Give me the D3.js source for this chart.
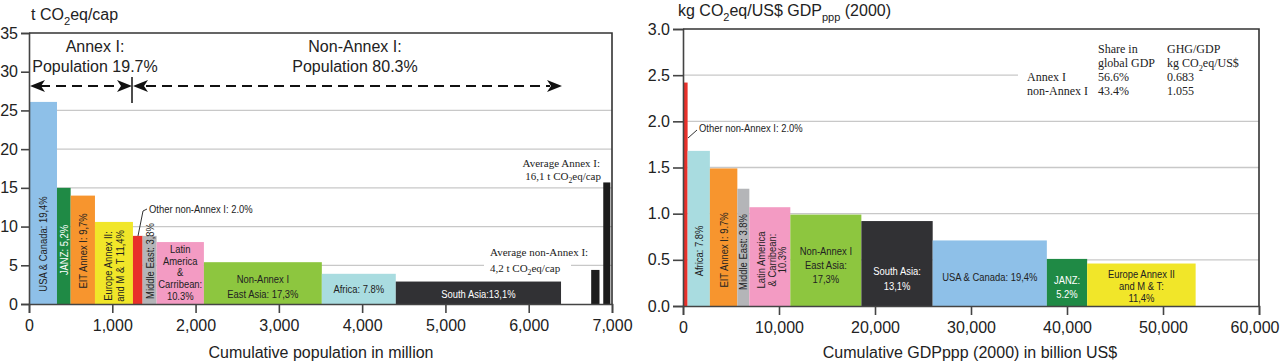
<!DOCTYPE html>
<html><head><meta charset="utf-8">
<script src="https://cdn.jsdelivr.net/npm/d3@7"></script>
<style>
body{margin:0;background:#fff}
svg{display:block}
.sans{font-family:"Liberation Sans",Arial,Helvetica,sans-serif}
.narrow{font-family:"Liberation Sans",Arial,sans-serif}
.serif{font-family:"Liberation Serif","Times New Roman",serif}
</style>
</head><body>
<svg id="c" width="1280" height="362"></svg>
<script>
// ---------------- DATA ----------------
const popCategories = ["USA & Canada","JANZ","EIT Annex I","Europe Annex II and M & T","Other non-Annex I","Middle East","Latin America & Carribean","Non-Annex I East Asia","Africa","South Asia"];
const popMillions   = [336,164,292,456,116,168,568,1416,888,1984];
const ghgPerCapita  = [26.1,15.0,14.0,10.6,8.8,8.8,8.0,5.4,3.9,2.9];
const popLabels = [["USA & Canada: 19,4%"],["JANZ: 5,2%"],["EIT Annex I: 9,7%"],["Europe Annex II:","and M & T 11,4%"],[],["Middle East: 3,8%"],["Latin","America","&","Carribean:","10.3%"],["Non-Annex I","East Asia: 17,3%"],["Africa: 7.8%"],["South Asia:13,1%"]];

const avgCategories = ["Average non-Annex I","Average Annex I"];
const avgStartPop   = [6750,6895];
const avgEndPop     = [6850,6980];
const avgPerCapita  = [4.4,15.7];

const gdpCategories = ["Other non-Annex I","Africa","EIT Annex I","Middle East","Latin America & Carribean","Non-Annex I East Asia","South Asia","USA & Canada","JANZ","Europe Annex II and M & T"];
const gdpBillions   = [480,2320,2860,1250,4270,7400,7430,11890,4200,11300];
const ghgPerGdp     = [2.42,1.68,1.49,1.27,1.07,0.99,0.92,0.71,0.51,0.46];
const gdpLabels = [[],["Africa: 7.8%"],["EIT Annex I: 9.7%"],["Middle East: 3.8%"],["Latin America","& Carribean:","10.3%"],["Non-Annex I","East Asia:","17,3%"],["South Asia:","13,1%"],["USA & Canada: 19,4%"],["JANZ:","5.2%"],["Europe Annex II","and M & T:","11,4%"]];

const popTicks    = [0,1000,2000,3000,4000,5000,6000,7000];
const perCapTicks = [0,5,10,15,20,25,30,35];
const gdpTicks    = [0,10000,20000,30000,40000,50000,60000];
const perGdpTicks = [0,0.5,1.0,1.5,2.0,2.5,3.0];

const tableHead1 = ["","Share in","GHG/GDP"];
const tableHead2 = ["","global GDP","kg CO|2|eq/US$"];
const tableRows  = [["Annex I","56.6%","0.683"],["non-Annex I","43.4%","1.055"]];

const colors = {
  "USA & Canada":"#8ec0e8","JANZ":"#1f8a45","EIT Annex I":"#f7952e","Europe Annex II and M & T":"#f1e629",
  "Other non-Annex I":"#e8302a","Middle East":"#b4b5b8","Latin America & Carribean":"#f39bc3",
  "Non-Annex I East Asia":"#8dc63f","Africa":"#a9dce0","South Asia":"#313134"
};
const whiteText = new Set(["South Asia","JANZ"]);

// ---------------- DRAW ----------------
const svg = d3.select("#c");
const fmt = d3.format(",");
const NARROW = 0.82;

function subText(sel, str, size){ // "a|2|b" => subscript
  const parts = str.split("|");
  parts.forEach((p,i)=>{
    if(i%2===1){ sel.append("tspan").attr("dy",size*0.3).attr("font-size",size*0.7).text(p); }
    else if(i>0){ sel.append("tspan").attr("dy",-size*0.3).text(p); }
    else sel.append("tspan").text(p);
  });
}
// condensed text: drawn in a horizontally squeezed group
function narrowText(g, x, y, str, opts){
  const o = Object.assign({anchor:"middle",size:11.5,fill:"#222",rot:false,dy:null},opts||{});
  const gg = g.append("g").attr("transform",`translate(${x},${y})${o.rot?" rotate(-90)":""} scale(${NARROW},1)`);
  const t = gg.append("text").attr("class","narrow").attr("x",0).attr("y",0)
    .attr("text-anchor",o.anchor).attr("font-size",o.size).attr("fill",o.fill).text(str);
  if(o.dy) t.attr("dy",o.dy);
  return t;
}

function arrowHead(g, x, y, dir){ // dir +1 right, -1 left; tip at x
  const L=15, H=6, N=4;
  g.append("path").attr("d",`M${x},${y} L${x-dir*L},${y-H} L${x-dir*(L-N)},${y} L${x-dir*L},${y+H} Z`).attr("fill","#111");
}

function drawLabels(g, cats, labels, layout, starts, ends, xs, size){
  cats.forEach((c,i)=>{
    const L = layout[i]; if(!L) return;
    const cx = (xs(starts[i])+xs(ends[i]))/2 + (L.dx||0);
    const fill = whiteText.has(c) ? "#fff" : "#222";
    const lines = labels[i], n = lines.length, lh = L.lh||12;
    lines.forEach((t,k)=>{
      if(L.rot) narrowText(g, cx + (k-(n-1)/2)*lh, L.cy, t, {rot:true,size,fill,dy:"0.35em"});
      else narrowText(g, cx, L.y0 + k*lh, t, {size,fill});
    });
  });
}

function styleAxis(a){
  a.select(".domain").attr("stroke","#444").attr("stroke-width",1.6);
  a.selectAll(".tick line").attr("stroke","#444").attr("stroke-width",1.6);
  a.selectAll("text").attr("class","sans").attr("font-size",16).attr("fill","#222");
}

// ===== LEFT CHART =====
const xL = d3.scaleLinear().domain([0,7000]).range([29,612]);
const yL = d3.scaleLinear().domain([0,35]).range([304,33]);
const gL = svg.append("g");

gL.append("g").selectAll("line").data(perCapTicks.filter(d=>d>0 && d<30)).join("line")
  .attr("x1",xL(0)).attr("x2",xL(7000)).attr("y1",d=>yL(d)).attr("y2",d=>yL(d))
  .attr("stroke","#c8c8c8").attr("stroke-width",1.3);

const popEnd = Array.from(d3.cumsum(popMillions));
const popStart = popEnd.map((e,i)=>e-popMillions[i]);
gL.append("g").selectAll("rect").data(popCategories).join("rect")
  .attr("x",(d,i)=>xL(popStart[i])).attr("width",(d,i)=>xL(popEnd[i])-xL(popStart[i]))
  .attr("y",(d,i)=>yL(ghgPerCapita[i])).attr("height",(d,i)=>yL(0)-yL(ghgPerCapita[i]))
  .attr("fill",d=>colors[d]);
gL.append("g").selectAll("rect").data(avgCategories).join("rect")
  .attr("x",(d,i)=>xL(avgStartPop[i])).attr("width",(d,i)=>xL(avgEndPop[i])-xL(avgStartPop[i]))
  .attr("y",(d,i)=>yL(avgPerCapita[i])).attr("height",(d,i)=>yL(0)-yL(avgPerCapita[i]))
  .attr("fill","#1c1c1c");

const axLg = gL.append("g").attr("transform",`translate(${xL(0)},0)`)
  .call(d3.axisLeft(yL).tickValues(perCapTicks).tickSize(8).tickPadding(3).tickFormat(d3.format("d")));
const axBg = gL.append("g").attr("transform",`translate(0,${yL(0)})`)
  .call(d3.axisBottom(xL).tickValues(popTicks).tickSize(9).tickPadding(7).tickFormat(fmt));
styleAxis(axLg); styleAxis(axBg);
gL.append("path").attr("d",`M${xL(0)},${yL(35)} H${xL(7000)} V${yL(0)}`).attr("fill","none").attr("stroke","#333").attr("stroke-width",1.6);

const tL = gL.append("text").attr("class","sans").attr("x",31).attr("y",20).attr("font-size",16).attr("fill","#222");
subText(tL,"t CO|2|eq/cap",16);
gL.append("text").attr("class","sans").attr("x",321).attr("y",358).attr("text-anchor","middle").attr("font-size",16).attr("fill","#222").text("Cumulative population in million");

[["Annex I:",95,52],["Population 19.7%",95,72],["Non-Annex I:",355,52],["Population 80.3%",355,72]].forEach(([t,x,y])=>{
  gL.append("text").attr("class","sans").attr("x",x).attr("y",y).attr("text-anchor","middle").attr("font-size",16).attr("fill","#222").text(t);
});
const ay = 86, midX = 132;
gL.append("line").attr("x1",40).attr("x2",120).attr("y1",ay).attr("y2",ay).attr("stroke","#111").attr("stroke-width",2).attr("stroke-dasharray","10,6");
gL.append("line").attr("x1",146).attr("x2",550).attr("y1",ay).attr("y2",ay).attr("stroke","#111").attr("stroke-width",2).attr("stroke-dasharray","10,6");
arrowHead(gL,30,ay,-1); arrowHead(gL,midX,ay,1); arrowHead(gL,midX+1,ay,-1); arrowHead(gL,562,ay,1);
gL.append("line").attr("x1",midX).attr("x2",midX).attr("y1",77).attr("y2",103).attr("stroke","#111").attr("stroke-width",1.5);

const popLayout = {
  0:{rot:true,cy:244},1:{rot:true,cy:250},2:{rot:true,cy:251},3:{rot:true,cy:266,lh:12},5:{rot:true,cy:261},
  6:{rot:false,y0:253,lh:11.7},7:{rot:false,y0:283,lh:15},8:{rot:false,y0:293},9:{rot:false,y0:298}
};
drawLabels(gL, popCategories, popLabels, popLayout, popStart, popEnd, xL, 11.5);

gL.append("path").attr("d","M147,209 L143,211 L138,236").attr("fill","none").attr("stroke","#333").attr("stroke-width",1);
narrowText(gL,149,213,"Other non-Annex I: 2.0%",{anchor:"start"});

gL.append("text").attr("class","serif").attr("x",600).attr("y",167).attr("text-anchor","end").attr("font-size",11).attr("fill","#222").text("Average Annex I:");
const a2 = gL.append("text").attr("class","serif").attr("x",601).attr("y",180).attr("text-anchor","end").attr("font-size",11).attr("fill","#222");
subText(a2,"16,1 t CO|2|eq/cap",11);
gL.append("text").attr("class","serif").attr("x",490).attr("y",256).attr("font-size",11).attr("fill","#222").text("Average non-Annex I:");
gL.append("rect").attr("x",484).attr("y",262).attr("width",87).attr("height",12).attr("fill","#fff");
const a4 = gL.append("text").attr("class","serif").attr("x",490).attr("y",272).attr("font-size",11).attr("fill","#222");
subText(a4,"4,2 t CO|2|eq/cap",11);

// ===== RIGHT CHART =====
const xR = d3.scaleLinear().domain([0,60000]).range([683,1259]);
const yR = d3.scaleLinear().domain([0,3]).range([306,29]);
const gR = svg.append("g");

gR.append("g").selectAll("line").data(perGdpTicks.filter(d=>d>0 && d<3)).join("line")
  .attr("x1",xR(0)).attr("x2",d=>d===2.5? 1018 : xR(60000)).attr("y1",d=>yR(d)).attr("y2",d=>yR(d))
  .attr("stroke","#c8c8c8").attr("stroke-width",1.3);

const gdpEnd = Array.from(d3.cumsum(gdpBillions));
const gdpStart = gdpEnd.map((e,i)=>e-gdpBillions[i]);
gR.append("g").selectAll("rect").data(gdpCategories).join("rect")
  .attr("x",(d,i)=>xR(gdpStart[i])).attr("width",(d,i)=>xR(gdpEnd[i])-xR(gdpStart[i]))
  .attr("y",(d,i)=>yR(ghgPerGdp[i])).attr("height",(d,i)=>yR(0)-yR(ghgPerGdp[i]))
  .attr("fill",d=>colors[d]);

const axRg = gR.append("g").attr("transform",`translate(${xR(0)},0)`)
  .call(d3.axisLeft(yR).tickValues(perGdpTicks).tickSize(10).tickPadding(3).tickFormat(d3.format(".1f")));
const axRBg = gR.append("g").attr("transform",`translate(0,${yR(0)})`)
  .call(d3.axisBottom(xR).tickValues(gdpTicks).tickSize(9).tickPadding(7).tickFormat(fmt));
styleAxis(axRg); styleAxis(axRBg);
axRBg.selectAll(".tick text").filter(d=>d===60000).attr("text-anchor","end").attr("dx",20);
gR.append("path").attr("d",`M${xR(0)},${yR(3)} H${xR(60000)} V${yR(0)}`).attr("fill","none").attr("stroke","#333").attr("stroke-width",1.6);

const tR = gR.append("text").attr("class","sans").attr("x",678).attr("y",16).attr("font-size",16).attr("fill","#222");
tR.append("tspan").text("kg CO");
tR.append("tspan").attr("dy",5).attr("font-size",11).text("2");
tR.append("tspan").attr("dy",-5).text("eq/US$ GDP");
tR.append("tspan").attr("dy",5).attr("font-size",11).text("ppp");
tR.append("tspan").attr("dy",-5).text(" (2000)");
gR.append("text").attr("class","sans").attr("x",970).attr("y",358).attr("text-anchor","middle").attr("font-size",16).attr("fill","#222")
  .text("Cumulative GDPppp (2000) in billion US$");

const gdpLayout = {
  1:{rot:true,cy:251},2:{rot:true,cy:250},3:{rot:true,cy:252},4:{rot:true,cy:260,lh:10.5,dx:2},
  5:{rot:false,y0:255,lh:14},6:{rot:false,y0:275,lh:15},7:{rot:false,y0:281},8:{rot:false,y0:284,lh:14},9:{rot:false,y0:278,lh:12}
};
drawLabels(gR, gdpCategories, gdpLabels, gdpLayout, gdpStart, gdpEnd, xR, 11.5);

gR.append("path").attr("d","M697,130 L688,138").attr("fill","none").attr("stroke","#333").attr("stroke-width",1);
narrowText(gR,699,132,"Other non-Annex I: 2.0%",{anchor:"start"});

const colX = [1027,1098,1167];
[tableHead1,tableHead2].forEach((row,r)=>{
  row.forEach((t,c)=>{ if(!t) return;
    const tx = gR.append("text").attr("class","serif").attr("x",colX[c]).attr("y",53+r*14).attr("font-size",12).attr("fill","#222");
    subText(tx,t,12);
  });
});
tableRows.forEach((row,r)=>{
  row.forEach((t,c)=>{
    gR.append("text").attr("class","serif").attr("x",colX[c]).attr("y",81+r*14).attr("font-size",12).attr("fill","#222").text(t);
  });
});
</script>
</body></html>
